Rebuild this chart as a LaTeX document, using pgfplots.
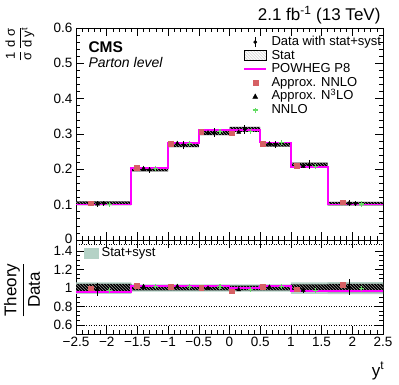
\documentclass[border=0pt]{standalone}
\usepackage{fontspec}
\setmainfont{Liberation Sans}
\usepackage{pgfplots}
\usepackage{pgfplotstable}
\pgfplotsset{compat=1.18}
\usepgfplotslibrary{fillbetween}

\definecolor{powheg}{RGB}{255,0,255}
\definecolor{annlo}{RGB}{214,96,100}
\definecolor{nnlo}{RGB}{100,220,100}
\definecolor{band}{RGB}{180,210,198}

% hatch drawn as clipped lines (no pdf patterns)
\tikzset{hatch/.style={path picture={
  \foreach \k in {-40,...,110}{
    \draw[black!25, line width=0.3pt] (path picture bounding box.north west) ++(\k*3pt,0pt) -- ++(110pt,-110pt);}}}}

% bin edges (last row repeats the last bin)
\pgfplotstableread{
x     pow    slo    shi    rpow   ylo    yhi    rlo    rhi
-2.5  0.100  0.099  0.109  0.959  0.938  1.062  0.955  1.045
-1.6  0.204  0.194  0.204  1.024  0.960  1.040  0.975  1.025
-1.0  0.275  0.263  0.275  1.024  0.960  1.040  0.975  1.025
-0.5  0.311  0.297  0.311  1.024  0.960  1.040  0.975  1.025
 0.0  0.312  0.306  0.320  1.002  0.960  1.040  0.975  1.025
 0.5  0.276  0.264  0.276  1.024  0.960  1.040  0.975  1.025
 1.0  0.207  0.207  0.219  0.970  0.938  1.062  0.960  1.040
 1.6  0.100  0.098  0.108  0.970  0.935  1.065  0.955  1.045
 2.5  0.100  0.098  0.108  0.970  0.935  1.065  0.955  1.045
}\edges

% per bin: data, theory points, ratios
\pgfplotstableread{
c      data   err     red    tri    terr    nn     rred   rtri   rterr  rnn
-2.05  0.104  0.0065  0.104  0.102  0.0075  0.101  0.998  0.985  0.072  0.970
-1.30  0.199  0.0080  0.204  0.202  0.0060  0.203  1.024  1.015  0.030  1.020
-0.75  0.269  0.0110  0.273  0.273  0       0.274  1.016  1.016  0      1.020
-0.25  0.304  0.0120  0.306  0.303  0       0.308  1.005  0.998  0      1.013
 0.25  0.313  0.0125  0.302  0.305  0       0.307  0.965  0.981  0      0.987
 0.75  0.270  0.0110  0.273  0.272  0       0.275  1.013  1.009  0      1.020
 1.30  0.213  0.0130  0.210  0.208  0.0050  0.208  0.987  0.975  0.025  0.976
 2.05  0.103  0.0067  0.107  0.104  0.0090  0.102  1.038  1.010  0.087  0.991
}\bins

\pgfplotsset{
  cms/.style={
    scale only axis, width=307pt,
    xmin=-2.5, xmax=2.5,
    xtick={-2.5,-2,...,2.5}, minor x tick num=4,
    tick align=inside, major tick length=8pt, minor tick length=4pt,
    every tick/.style={black, line width=0.6pt},
    axis line style={line width=0.7pt},
    ticklabel style={font=\fontsize{13.5}{13.5}\selectfont},
  },
}

\begin{document}
\begin{tikzpicture}

% ---------- main panel ----------
\begin{axis}[cms,
  at={(76pt,145pt)}, anchor=south west, height=212pt,
  ymin=0, ymax=0.6,
  ytick={0,0.1,...,0.6}, yticklabels={\raisebox{2pt}{0},0.1,0.2,0.3,0.4,0.5,0.6},
  minor y tick num=4,
  xticklabels={},
  legend cell align=left,
  legend style={draw=none, fill=none, at={(rel axis cs:0.535,0.975)}, anchor=north west,
    font=\fontsize{13}{13}\selectfont, row sep=0.5pt, column sep=4pt,
    nodes={inner sep=0.5pt, text height=9.5pt, text depth=2.6pt}},
]
\addlegendimage{legend image code/.code={\draw[black,line width=0.8pt](11pt,-5pt)--(11pt,5pt);\fill[black](11pt,0pt) circle(1.7pt);}}
\addlegendentry{Data with stat+syst}
\addlegendimage{legend image code/.code={\path[hatch](0pt,-5pt) rectangle (22pt,5pt);}}
\addlegendentry{Stat}
\addlegendimage{legend image code/.code={\draw[draw=powheg,line width=1.6pt](0pt,0pt)--(22pt,0pt);}}
\addlegendentry{POWHEG P8}
\addlegendimage{legend image code/.code={\fill[annlo](8.5pt,-2.5pt) rectangle (13.5pt,2.5pt);}}
\addlegendentry{Approx. NNLO}
\addlegendimage{legend image code/.code={\fill[black](8.5pt,-2pt)--(13.5pt,-2pt)--(11pt,2.5pt)--cycle;}}
\addlegendentry{Approx. N\textsuperscript{3}LO}
\addlegendimage{legend image code/.code={\draw[nnlo,line width=1.2pt](8.5pt,0pt)--(13.5pt,0pt)(11pt,-2.5pt)--(11pt,2.5pt);}}
\addlegendentry{NNLO}

\addplot[name path=shi, draw=none, const plot, forget plot] table[x=x, y=shi]{\edges};
\addplot[name path=slo, draw=none, const plot, forget plot] table[x=x, y=slo]{\edges};
\addplot[draw=none, hatch, forget plot] fill between[of=shi and slo];
\addplot[draw=powheg, line width=1.6pt, const plot, forget plot] table[x=x, y=pow]{\edges};

\addplot[only marks, mark=square*, mark size=2.4pt, color=annlo, forget plot]
  table[x expr=\thisrow{c}-0.21, y=red]{\bins};
\addplot[only marks, mark=triangle*, mark size=2.4pt, black, forget plot,
  error bars/.cd, y dir=both, y explicit, error mark=none, error bar style={line width=0.8pt}]
  table[x expr=\thisrow{c}-0.10, y=tri, y error=terr]{\bins};
\addplot[only marks, mark=*, mark size=1.7pt, black, forget plot,
  error bars/.cd, y dir=both, y explicit, error mark=none, error bar style={line width=0.8pt}]
  table[x=c, y=data, y error=err]{\bins};
\addplot[only marks, mark=+, mark size=2.6pt, line width=1.1pt, color=nnlo, forget plot]
  table[x expr=\thisrow{c}+0.095, y=nn]{\bins};
\end{axis}

% ---------- ratio panel ----------
\begin{axis}[cms,
  at={(76pt,51pt)}, anchor=south west, height=94pt,
  ymin=0.503, ymax=1.519,
  ytick={0.6,0.8,1,1.2,1.4}, yticklabels={0.6,0.8,1,1.2,1.4},
  minor y tick num=3,
  xticklabels={−2.5,−2,−1.5,−1,−0.5,0,0.5,1,1.5,2,2.5},
  legend cell align=left,
  legend style={draw=none, fill=none, at={(rel axis cs:0.015,0.955)}, anchor=north west,
    font=\fontsize{13}{13}\selectfont, column sep=3pt,
    nodes={inner sep=0.5pt, text height=9.5pt, text depth=2.6pt}},
]
\addlegendimage{legend image code/.code={\fill[band](0pt,-5pt) rectangle (14pt,5pt);}}
\addlegendentry{Stat+syst}

\addplot[black, dotted, line width=0.5pt, forget plot] coordinates {(-2.5,0.6)(2.5,0.6)};
\addplot[black, dotted, line width=0.5pt, forget plot] coordinates {(-2.5,0.8)(2.5,0.8)};
\addplot[black, dotted, line width=0.5pt, forget plot] coordinates {(-2.5,1.47)(2.5,1.47)};

\addplot[name path=yhi, draw=none, const plot, forget plot] table[x=x, y=yhi]{\edges};
\addplot[name path=ylo, draw=none, const plot, forget plot] table[x=x, y=ylo]{\edges};
\addplot[fill=band, draw=none, forget plot] fill between[of=yhi and ylo];
\addplot[name path=rhi, draw=none, const plot, forget plot] table[x=x, y=rhi]{\edges};
\addplot[name path=rlo, draw=none, const plot, forget plot] table[x=x, y=rlo]{\edges};
\addplot[draw=none, hatch, forget plot] fill between[of=rhi and rlo];
\addplot[draw=powheg, line width=1.6pt, const plot, forget plot] table[x=x, y=rpow]{\edges};

\addplot[only marks, mark=square*, mark size=2.4pt, color=annlo, forget plot]
  table[x expr=\thisrow{c}-0.21, y=rred]{\bins};
\addplot[only marks, mark=triangle*, mark size=2.4pt, black, forget plot,
  error bars/.cd, y dir=both, y explicit, error mark=none, error bar style={line width=0.9pt}]
  table[x expr=\thisrow{c}-0.10, y=rtri, y error=rterr]{\bins};
\addplot[only marks, mark=+, mark size=2.6pt, line width=1.1pt, color=nnlo, forget plot]
  table[x expr=\thisrow{c}+0.095, y=rnn]{\bins};
\end{axis}

% ---------- texts ----------
\node[anchor=east, font=\fontsize{17}{17}\selectfont] at (384pt,370pt) {2.1 fb\textsuperscript{-1} (13 TeV)};
\node[anchor=west, font=\fontsize{15.5}{15.5}\selectfont\bfseries] at (85pt,338pt) {CMS};
\node[anchor=west, font=\fontsize{14}{14}\selectfont\itshape] at (85pt,322pt) {Parton level};
\node[rotate=90, font=\fontsize{13}{13}\selectfont] at (20pt,341pt)
  {$\displaystyle\frac{\mbox{1}}{\mbox{σ}}\,\frac{\mbox{d σ}}{\mbox{d y\textsuperscript{t}}}$};
\node[rotate=90, font=\fontsize{17}{17}\selectfont] at (22pt,95pt)
  {$\displaystyle\frac{\mbox{Theory}}{\mbox{Data}}$};
\node[font=\fontsize{17}{17}\selectfont] at (378pt,14pt) {y\textsuperscript{t}};
\path (0,0) rectangle (399pt,385pt);
\end{tikzpicture}
\end{document}
